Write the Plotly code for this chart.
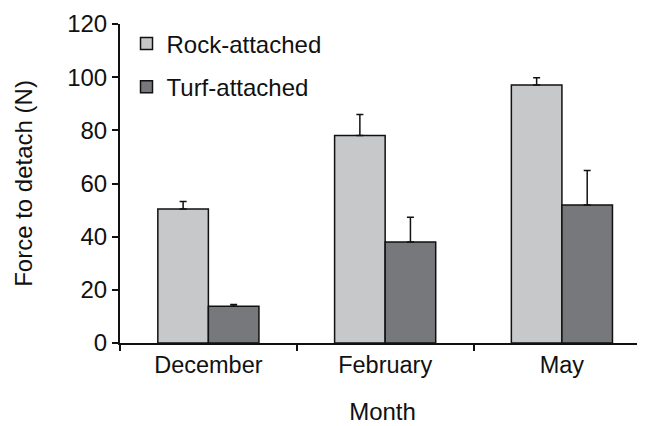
import plotly.graph_objects as go

months = ["December", "February", "May"]
rock = [50.4, 78.1, 97.1]
rock_err = [2.8, 7.9, 2.7]
turf = [13.8, 38.0, 51.9]
turf_err = [0.7, 9.3, 13.0]
yticks = [0, 20, 40, 60, 80, 100, 120]

font = "Liberation Sans, Arial, sans-serif"

fig = go.Figure()
fig.add_trace(go.Bar(
    x=months, y=rock, name="Rock-attached", legendgroup="a",
    marker=dict(color="#c7c8ca", line=dict(color="#111111", width=1.5)),
    error_y=dict(type="data", array=rock_err, arrayminus=[0]*3, symmetric=False,
                 color="#111111", thickness=1.5, width=3.5),
))
fig.add_trace(go.Bar(
    x=months, y=turf, name="Turf-attached", legendgroup="b",
    marker=dict(color="#77787b", line=dict(color="#111111", width=1.5)),
    error_y=dict(type="data", array=turf_err, arrayminus=[0]*3, symmetric=False,
                 color="#111111", thickness=1.5, width=3.5),
))

fig.update_layout(
    width=637, height=418,
    margin=dict(l=112, r=0, t=16, b=83),
    paper_bgcolor="white", plot_bgcolor="white",
    font=dict(family=font, size=24, color="#111111"),
    barmode="group", bargap=0.428, bargroupgap=0,
    showlegend=True,
    legend=dict(x=0.0124, y=1.008, xanchor="left", yanchor="top",
                bgcolor="rgba(0,0,0,0)", tracegroupgap=9,
                font=dict(family=font, size=24, color="#111111")),
    xaxis=dict(
        type="category", range=[-0.5, 2.47], tickson="boundaries",
        showline=True, linecolor="#111111", linewidth=2,
        ticks="outside", ticklen=6, tickcolor="#111111", tickwidth=1.5,
        showgrid=False, zeroline=False,
        tickfont=dict(size=23.5),
        title=dict(text="Month", standoff=26, font=dict(size=24)),
    ),
    yaxis=dict(
        range=[0, 120], tickvals=yticks,
        showline=True, linecolor="#111111", linewidth=2,
        ticks="outside", ticklen=6, tickcolor="#111111", tickwidth=1.5,
        showgrid=False, zeroline=False,
        title=dict(text="Force to detach (N)", standoff=28, font=dict(size=24)),
    ),
)

fig.write_html("out.html")
